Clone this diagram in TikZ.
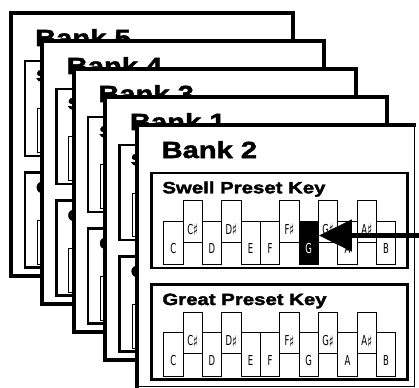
\documentclass[tikz,border=0pt]{standalone}
\usepackage{fontspec}
\usepackage{tikz}
\usetikzlibrary{arrows.meta, positioning}

\newfontfamily\headfont[FakeStretch=1.25, BoldFeatures={FakeBold=2.2}]{Liberation Sans}
\newfontfamily\keyfont[FakeStretch=0.62]{DejaVu Sans}
\newcommand{\shp}{\raisebox{-1.6pt}{\fontsize{16}{16}\selectfont ♯}}

\tikzset{
    card/.style={draw, line width=4pt, fill=white},
    presetbox/.style={draw, line width=2.6pt},
    banktitle/.style={font=\headfont\bfseries\fontsize{23.3}{24}\selectfont, anchor=base west, inner sep=0pt},
    boxtitle/.style={font=\headfont\bfseries\fontsize{16.3}{17}\selectfont, anchor=base west, inner sep=0pt},
    keybase/.style={draw, line width=0.8pt, fill=white, inner sep=0pt, anchor=north west,
        minimum width=19.35pt, text depth=0pt, font=\keyfont\fontsize{13.7}{14}\selectfont},
    whitekey/.style={keybase, minimum height=43.8pt, text height=21.8pt, yshift=-47.5pt},
    sharpkey/.style={keybase, minimum height=41.3pt, text height=25.3pt, yshift=-27.3pt},
    hit2sw7/.style={fill=black, text=white},
    pointerline/.style={line width=5pt, -{Triangle[length=33pt, width=31pt]}},
}

\begin{document}
\begin{tikzpicture}[x=1pt, y=-1pt]
    \useasboundingbox (0,0) rectangle (419,387);
    \clip (0,0) rectangle (419,387);

    % Các thẻ bank xếp chồng
    \foreach \bk [count=\i from 0] in {5,4,3,1,2}{
        \begin{scope}[shift={(10.5+31.6*\i, 13+28*\i)}]
            \ifnum\bk=2
                \path[fill=white] (0,0) rectangle (277,261);
                \draw[line width=0.8pt] (0,261) -- (277,261) -- (277,0);
                \draw[line width=4pt] (0,263) -- (0,0) -- (279,0);
            \else
                \draw[card] (0,0) rectangle (282,263);
            \fi
            \node[banktitle] (title\bk) at (24.5,33) {Bank \bk};

            % Hai khung preset
            \foreach \part/\name/\top in {sw/Swell/48, gt/Great/159.7}{
                \begin{scope}[shift={(14.3,\top)}]
                    \draw[presetbox] (0,0) rectangle (256,95);
                    \node[boxtitle] (\part title\bk) at (11,20.3) {\name\ Preset Key};
                    \foreach \n/\nm/\kind in {0/C/whitekey, 1/C\shp/sharpkey, 2/D/whitekey,
                        3/D\shp/sharpkey, 4/E/whitekey, 5/F/whitekey, 6/F\shp/sharpkey,
                        7/G/whitekey, 8/G\shp/sharpkey, 9/A/whitekey, 10/A\shp/sharpkey, 11/B/whitekey}{
                        \node[\kind, hit\bk\part\n/.try] (\part\bk-\n) at (12+19.35*\n, 0) {\nm};
                    }
                \end{scope}
            }
        \end{scope}
    }

    % Mũi tên chỉ phím G
    \coordinate (pointer) at (430,235.5);
    \draw[pointerline] (pointer) -- (sw2-7.east |- pointer);
\end{tikzpicture}
\end{document}
